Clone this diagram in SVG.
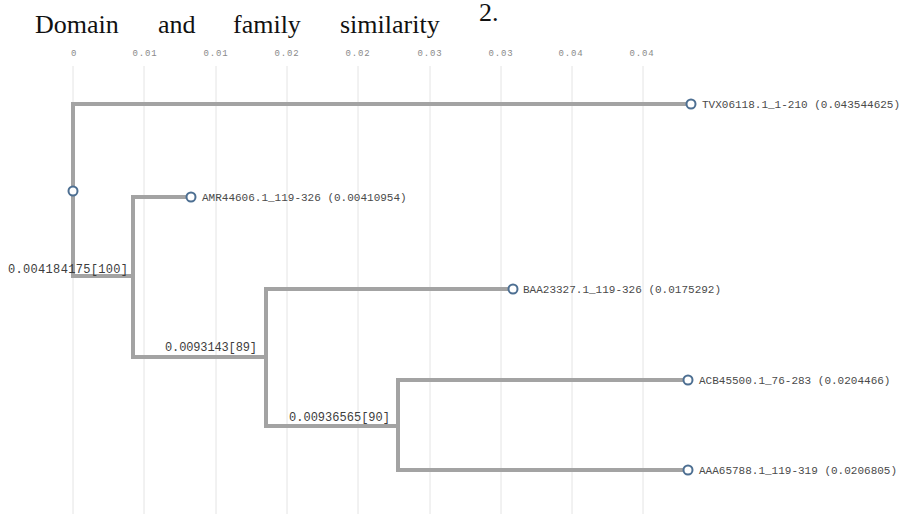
<svg xmlns="http://www.w3.org/2000/svg" width="907" height="514" viewBox="0 0 907 514">
  <style>
    .title { font-family: "Liberation Serif", "Times New Roman", serif; font-size: 26px; fill: #111; }
    .grid { stroke: #e4e4e4; stroke-width: 1; }
    .tick { font-family: "Liberation Mono", monospace; font-size: 9px; fill: #8a8a8a; text-anchor: middle; letter-spacing: 0.8px; }
    .edge { fill: none; stroke: #a3a3a3; stroke-width: 4; stroke-linejoin: miter; }
    .dot { fill: #fff; stroke: #4d6f92; stroke-width: 2; }
    .leaf { font-family: "Liberation Mono", monospace; font-size: 11px; fill: #4a4a4a; }
    .blen { font-family: "Liberation Mono", monospace; font-size: 12px; fill: #3d3d3d; }
  </style>

  <rect width="907" height="514" fill="#fff"/>

  <!-- heading -->
  <text class="title" x="35" y="33">Domain</text>
  <text class="title" x="158" y="33">and</text>
  <text class="title" x="233" y="33">family</text>
  <text class="title" x="340" y="33">similarity</text>
  <text class="title" x="479" y="21">2.</text>

  <!-- distance axis -->
  <g id="axis">
    <line class="grid" x1="73" y1="66" x2="73" y2="514"/>
    <line class="grid" x1="144" y1="66" x2="144" y2="514"/>
    <line class="grid" x1="216" y1="66" x2="216" y2="514"/>
    <line class="grid" x1="287" y1="66" x2="287" y2="514"/>
    <line class="grid" x1="358" y1="66" x2="358" y2="514"/>
    <line class="grid" x1="430" y1="66" x2="430" y2="514"/>
    <line class="grid" x1="501" y1="66" x2="501" y2="514"/>
    <line class="grid" x1="572" y1="66" x2="572" y2="514"/>
    <line class="grid" x1="643" y1="66" x2="643" y2="514"/>
    <text class="tick" x="74" y="56">0</text>
    <text class="tick" x="145" y="56">0.01</text>
    <text class="tick" x="216" y="56">0.01</text>
    <text class="tick" x="287" y="56">0.02</text>
    <text class="tick" x="358" y="56">0.02</text>
    <text class="tick" x="430" y="56">0.03</text>
    <text class="tick" x="501" y="56">0.03</text>
    <text class="tick" x="571" y="56">0.04</text>
    <text class="tick" x="642" y="56">0.04</text>
  </g>

  <!-- branches -->
  <g id="edges">
    <path class="edge" d="M691 104 H73 V276 H133"/>
    <path class="edge" d="M191 197 H133 V357 H266"/>
    <path class="edge" d="M513 289 H266 V426 H398"/>
    <path class="edge" d="M688 380 H398 V470 H688"/>
  </g>

  <!-- branch length / support labels -->
  <g id="branch-labels">
    <text class="blen" x="8" y="273" textLength="120" lengthAdjust="spacing">0.004184175[100]</text>
    <text class="blen" x="165" y="351" textLength="92" lengthAdjust="spacing">0.0093143[89]</text>
    <text class="blen" x="289" y="421" textLength="101" lengthAdjust="spacing">0.00936565[90]</text>
  </g>

  <g id="root"><circle class="dot" cx="73" cy="191" r="4.5"/></g>

  <g id="TVX06118"><circle class="dot" cx="691" cy="104" r="4.5"/><text class="leaf" x="702" y="108">TVX06118.1_1-210 (0.043544625)</text></g>
  <g id="AMR44606"><circle class="dot" cx="191" cy="197" r="4.5"/><text class="leaf" x="202" y="201">AMR44606.1_119-326 (0.00410954)</text></g>
  <g id="BAA23327"><circle class="dot" cx="513" cy="289" r="4.5"/><text class="leaf" x="523" y="293">BAA23327.1_119-326 (0.0175292)</text></g>
  <g id="ACB45500"><circle class="dot" cx="688" cy="380" r="4.5"/><text class="leaf" x="699" y="384">ACB45500.1_76-283 (0.0204466)</text></g>
  <g id="AAA65788"><circle class="dot" cx="688" cy="470" r="4.5"/><text class="leaf" x="699" y="474">AAA65788.1_119-319 (0.0206805)</text></g>
</svg>
